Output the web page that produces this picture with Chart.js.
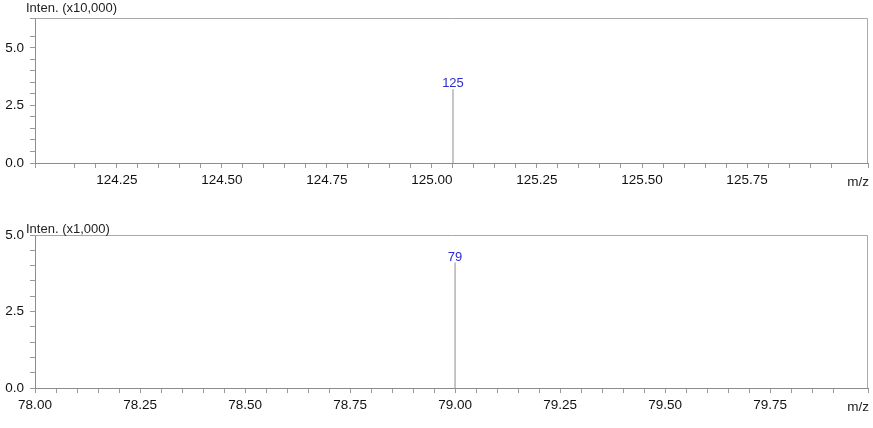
<!DOCTYPE html>
<html>
<head>
<meta charset="utf-8">
<script src="https://cdn.jsdelivr.net/npm/chart.js@4.4.1/dist/chart.umd.min.js"></script>
<style>
  html, body { margin: 0; padding: 0; background: #fff; }
  .wrap { position: absolute; left: 0; width: 873px; }
  #topWrap { top: 0; height: 215px; }
  #bottomWrap { top: 215px; height: 213px; }
</style>
</head>
<body>
<div class="wrap" id="topWrap"><canvas id="topChart" width="873" height="215"></canvas></div>
<div class="wrap" id="bottomWrap"><canvas id="bottomChart" width="873" height="213"></canvas></div>
<script>
// Top spectrum (Inten. x10,000)
const topMz = [125.05];
const topIntensity = [3.2];
const topPeakLabels = ['125'];
const topXTicks = [124.25, 124.50, 124.75, 125.00, 125.25, 125.50, 125.75];
const topYTicks = [0.0, 2.5, 5.0];

// Bottom spectrum (Inten. x1,000)
const bottomMz = [79.00];
const bottomIntensity = [4.1];
const bottomPeakLabels = ['79'];
const bottomXTicks = [78.00, 78.25, 78.50, 78.75, 79.00, 79.25, 79.50, 79.75];
const bottomYTicks = [0.0, 2.5, 5.0];

const FONT = '"Liberation Sans", Arial, sans-serif';

// frame, peak labels, axis captions
const spectrumDeco = {
    id: 'spectrumDeco',
    afterDraw(chart, args, opts) {
        const ctx = chart.ctx;
        const a = chart.chartArea;
        const xs = chart.scales.x, ys = chart.scales.y;
        ctx.save();
        ctx.strokeStyle = '#a8a8a8';
        ctx.lineWidth = 1;
        ctx.beginPath();
        ctx.moveTo(a.left, a.top + 0.5);
        ctx.lineTo(a.right - 0.5, a.top + 0.5);
        ctx.lineTo(a.right - 0.5, a.bottom);
        ctx.stroke();

        ctx.font = '13px ' + FONT;
        ctx.fillStyle = '#222';
        ctx.textAlign = 'left';
        ctx.textBaseline = 'middle';
        ctx.fillText(opts.caption, a.left - 9, a.top - opts.captionGap);

        ctx.font = '13.5px ' + FONT;
        ctx.textAlign = 'right';
        ctx.fillText('m/z', a.right + 1, a.bottom + 19);

        ctx.font = '13px ' + FONT;
        ctx.fillStyle = '#2c2cd0';
        ctx.textAlign = 'center';
        ctx.textBaseline = 'bottom';
        opts.mz.forEach((m, i) => {
            const px = xs.getPixelForValue(m);
            const py = ys.getPixelForValue(opts.intensity[i]);
            ctx.fillText(opts.labels[i], px, py + 1);
        });
        ctx.restore();
    }
};

function makeSpectrum(id, mz, intensity, peakLabels, xTicks, yTicks, xMin, xMax, yMax, padTop, xAxisHeight, caption, captionGap) {
    const datasets = mz.map((m, i) => ({
        data: [{ x: m, y: 0 }, { x: m, y: intensity[i] }],
        borderColor: '#b8b8b8',
        borderWidth: 1.6,
        pointRadius: 0,
        fill: false
    }));
    const hasTick = (list, v) => list.some(t => Math.abs(t - v) < 1e-6);
    return new Chart(document.getElementById(id), {
        type: 'line',
        data: { datasets: datasets },
        plugins: [spectrumDeco],
        options: {
            responsive: false,
            animation: false,
            devicePixelRatio: 1,
            layout: { padding: { top: padTop, right: 5, left: 0, bottom: 0 } },
            plugins: {
                legend: { display: false },
                tooltip: { enabled: false },
                spectrumDeco: { mz: mz, intensity: intensity, labels: peakLabels, caption: caption, captionGap: captionGap }
            },
            scales: {
                x: {
                    type: 'linear',
                    min: xMin,
                    max: xMax,
                    afterFit: s => { s.height = xAxisHeight; },
                    border: { color: '#8c8c8c' },
                    grid: { drawOnChartArea: false, tickLength: 5, color: '#9a9a9a' },
                    ticks: {
                        stepSize: 0.05,
                        autoSkip: false,
                        maxRotation: 0,
                        padding: 4,
                        color: '#111',
                        font: { family: FONT, size: 13.5 },
                        callback: v => hasTick(xTicks, v) ? v.toFixed(2) : ''
                    }
                },
                y: {
                    min: 0,
                    max: yMax,
                    afterFit: s => { s.width = 35; },
                    border: { color: '#8c8c8c' },
                    grid: { drawOnChartArea: false, tickLength: 5, color: '#9a9a9a' },
                    ticks: {
                        stepSize: 0.5,
                        autoSkip: false,
                        padding: 6,
                        color: '#111',
                        font: { family: FONT, size: 13.5 },
                        callback: v => hasTick(yTicks, v) ? v.toFixed(1) : ''
                    }
                }
            }
        }
    });
}

makeSpectrum('topChart', topMz, topIntensity, topPeakLabels, topXTicks, topYTicks,
    124.055, 126.038, 6.3, 18, 52, 'Inten. (x10,000)', 10);
makeSpectrum('bottomChart', bottomMz, bottomIntensity, bottomPeakLabels, bottomXTicks, bottomYTicks,
    78.0, 79.983, 5.0, 20, 40, 'Inten. (x1,000)', 6);
</script>
</body>
</html>
